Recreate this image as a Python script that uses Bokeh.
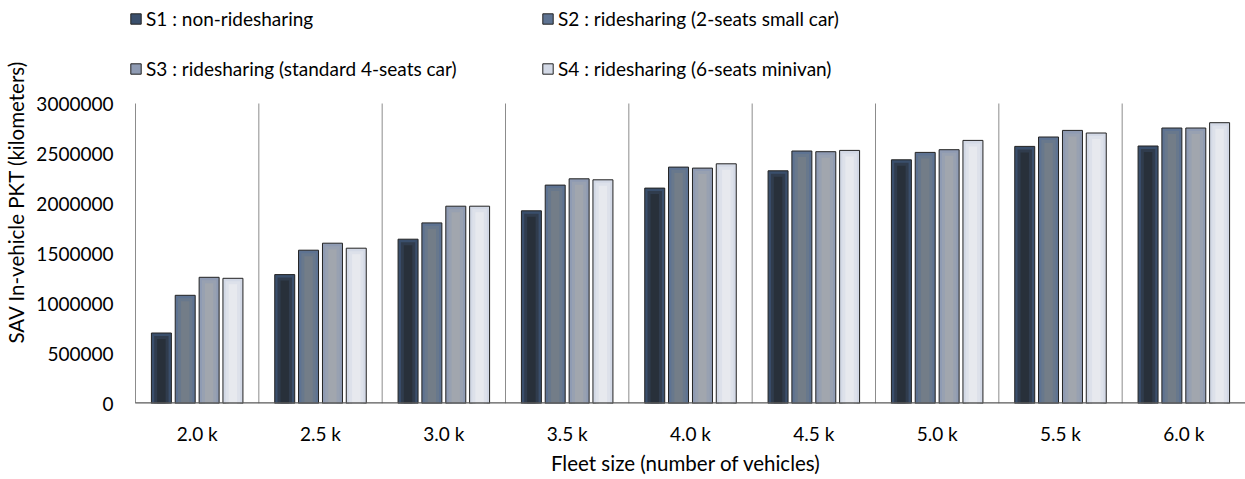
from bokeh.plotting import figure
from bokeh.models import (Range1d, FixedTicker, Legend, LegendItem, ColumnDataSource,
                          BasicTickFormatter)
from bokeh.transform import dodge
from bokeh.embed import file_html
from bokeh.resources import INLINE

cats = ["2.0 k", "2.5 k", "3.0 k", "3.5 k", "4.0 k", "4.5 k", "5.0 k", "5.5 k", "6.0 k"]
s1 = [705000, 1289000, 1643000, 1927000, 2154000, 2327000, 2437000, 2571000, 2575000]
s2 = [1082000, 1533000, 1806000, 2184000, 2364000, 2525000, 2511000, 2665000, 2755000]
s3 = [1262000, 1603000, 1973000, 2247000, 2354000, 2518000, 2538000, 2731000, 2755000]
s4 = [1252000, 1553000, 1973000, 2237000, 2397000, 2531000, 2631000, 2705000, 2808000]
series_names = ["S1 : non-ridesharing", "S2 : ridesharing (2-seats small car)",
                "S3 : ridesharing (standard 4-seats car)", "S4 : ridesharing (6-seats minivan)"]
y_ticks = [0, 500000, 1000000, 1500000, 2000000, 2500000, 3000000]
y_max = 3000000

FONT = "Lato"
# (edge, mid, centre) shades imitating the reference's gradient fill
shades = [("#3a4f6c", "#303c4d", "#28303a"),
          ("#5e7392", "#68788c", "#737d88"),
          ("#8f9bb3", "#98a1b1", "#a1a6ae"),
          ("#d3d9e6", "#dde1ea", "#e7e9ee")]
offsets = [-0.29, -0.097, 0.097, 0.29]
BAR_W = 0.162

FRAME_H = 403
PLOT_H = 300          # pixels from 0 to y_max
PX_PER_CAT = 1110 / len(cats)
LEFT_PAD = 9          # px of frame left of first category boundary
FRAME_W = 1110 + LEFT_PAD
y_top = y_max * FRAME_H / PLOT_H
px = y_max / PLOT_H   # data units per pixel

keys = ["s1", "s2", "s3", "s4"]
data = dict(x=[i + 0.5 for i in range(len(cats))], s1=s1, s2=s2, s3=s3, s4=s4)
for k in keys:
    data[k + "_m"] = [v - 3 * px for v in data[k]]
    data[k + "_c"] = [v - 6 * px for v in data[k]]
src = ColumnDataSource(data)

p = figure(frame_width=FRAME_W, frame_height=FRAME_H, output_backend="svg", toolbar_location=None,
           x_range=Range1d(-LEFT_PAD / PX_PER_CAT, len(cats)), y_range=Range1d(0, y_top),
           min_border_left=126, min_border_right=0, min_border_top=0, min_border_bottom=76)
p.outline_line_color = None
p.background_fill_color = "white"

# category separators (0..3M)
bounds = list(range(len(cats) + 1))
p.segment(x0=bounds, y0=[0] * len(bounds), x1=bounds, y1=[y_max] * len(bounds),
          line_color="#8c8c8c", line_width=1)

renderers = []
for key, off, (ce, cm, cc) in zip(keys, offsets, shades):
    r = p.vbar(x=dodge("x", off, range=p.x_range), top=key, width=BAR_W, source=src,
               fill_color=ce, line_color="#222222", line_width=1)
    p.vbar(x=dodge("x", off, range=p.x_range), top=key + "_m", width=BAR_W * 0.72, source=src,
           fill_color=cm, line_color=None)
    p.vbar(x=dodge("x", off, range=p.x_range), top=key + "_c", width=BAR_W * 0.42, source=src,
           fill_color=cc, line_color=None)
    renderers.append(r)

# baseline (category axis line), from the first category boundary to the right edge
p.segment(x0=[0], y0=[0], x1=[len(cats)], y1=[0], line_color="#595959", line_width=2.5)

# axes
p.xaxis.ticker = FixedTicker(ticks=[i + 0.5 for i in range(len(cats))])
p.xaxis.major_label_overrides = {i + 0.5: c for i, c in enumerate(cats)}
p.xaxis.axis_line_color = None
p.xaxis.major_tick_line_color = None
p.xaxis.minor_tick_line_color = None
p.xaxis.major_tick_out = 0
p.xaxis.major_tick_in = 0
p.xaxis.major_label_standoff = 18
p.xaxis.major_label_text_font = FONT
p.xaxis.major_label_text_font_size = "19px"
p.xaxis.major_label_text_color = "#000000"
p.xaxis.axis_label = "Fleet size (number of vehicles)"
p.xaxis.axis_label_text_font = FONT
p.xaxis.axis_label_text_font_size = "20.5px"
p.xaxis.axis_label_text_font_style = "normal"
p.xaxis.axis_label_text_color = "#000000"
p.xaxis.axis_label_standoff = 3

p.yaxis.ticker = FixedTicker(ticks=y_ticks)
p.yaxis.formatter = BasicTickFormatter(use_scientific=False)
p.yaxis.axis_line_color = None
p.yaxis.major_tick_line_color = None
p.yaxis.minor_tick_line_color = None
p.yaxis.major_tick_out = 0
p.yaxis.major_tick_in = 0
p.yaxis.major_label_standoff = 13
p.yaxis.major_label_text_font = FONT
p.yaxis.major_label_text_font_size = "19px"
p.yaxis.major_label_text_color = "#000000"
p.yaxis.axis_label = "SAV In-vehicle PKT (kilometers)"
p.yaxis.axis_label_text_font = FONT
p.yaxis.axis_label_text_font_size = "20.5px"
p.yaxis.axis_label_text_font_style = "normal"
p.yaxis.axis_label_text_color = "#000000"
p.yaxis.axis_label_standoff = 5

p.ygrid.grid_line_color = None
p.xgrid.grid_line_color = None

# legend laid out column-first: reorder so rows read S1 S2 / S3 S4
order = [0, 2, 1, 3]
legend = Legend(items=[LegendItem(label=series_names[i], renderers=[renderers[i]]) for i in order],
                ncols=2, location=(3, FRAME_H - 80))
legend.border_line_color = None
legend.background_fill_alpha = 0
legend.padding = 0
legend.margin = 0
legend.spacing = 27
legend.label_width = 368
legend.label_height = 22
legend.glyph_width = 13
legend.glyph_height = 13
legend.label_standoff = 4
legend.label_text_font = FONT
legend.label_text_font_size = "19px"
legend.label_text_color = "#000000"
p.add_layout(legend, "center")

open("out.html", "w").write(file_html(p, INLINE))
